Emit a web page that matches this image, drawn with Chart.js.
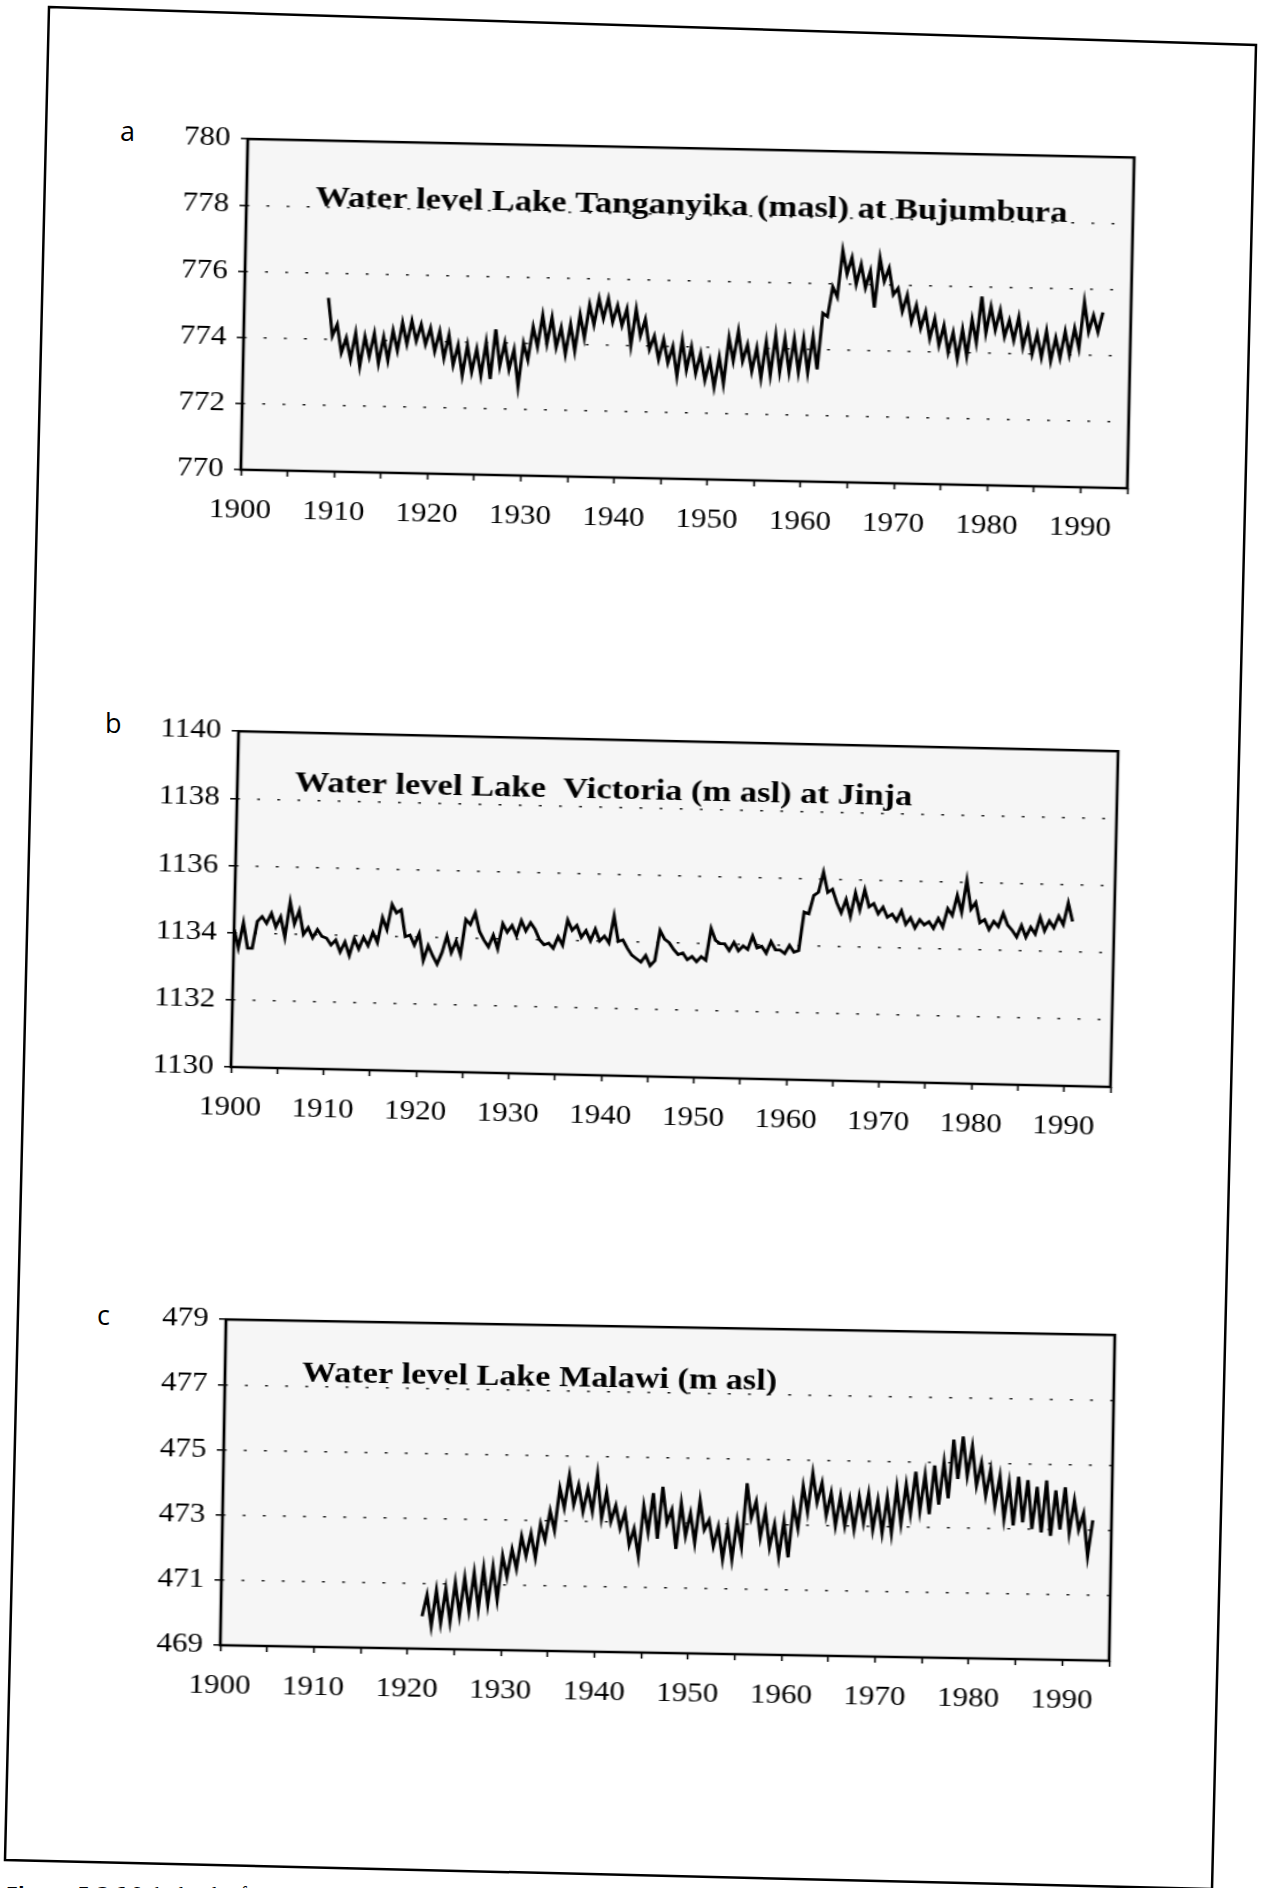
<!DOCTYPE html>
<html>
<head>
<meta charset="utf-8">
<script src="https://cdn.jsdelivr.net/npm/chart.js@4.4.1/dist/chart.umd.min.js"></script>
<style>
  html, body { margin: 0; padding: 0; background: #fff; }
  body { width: 1261px; height: 1888px; position: relative; overflow: hidden; }
  #frame { position: absolute; left: 0; top: 0; }
  .panel { position: absolute; }
  .panel canvas { display: block; }
  .tag { position: absolute; font-family: "Open Sans", sans-serif; font-size: 27px; line-height: 1; color: #000; }
  #caption { position: absolute; left: 6px; top: 1882px; white-space: nowrap; font-size: 20px; color: #000; }
  #caption b { font-family: "Liberation Sans Narrow", "DejaVu Sans Condensed", sans-serif; }
  #caption span { font-family: "Liberation Serif", serif; }
</style>
</head>
<body>
<svg id="frame" width="1261" height="1888">
  <polygon points="49,7 1256,45 1212,1889 5,1860" fill="none" stroke="#000" stroke-width="2.5"/>
</svg>

<div class="tag" style="left:120px;top:117px">a</div>
<div class="tag" style="left:105px;top:709px">b</div>
<div class="tag" style="left:97px;top:1301px">c</div>

<div class="panel" id="panelA"><canvas id="chartA"></canvas></div>
<div class="panel" id="panelB"><canvas id="chartB"></canvas></div>
<div class="panel" id="panelC"><canvas id="chartC"></canvas></div>

<div id="caption"><b>Figure 5.3.1</b> <span>Lake levels of</span></div>

<script>
// year labels on the x axes
const yearLabels = [1900, 1910, 1920, 1930, 1940, 1950, 1960, 1970, 1980, 1990];

// readings are half a year apart (high / low of each year)
const tanganyikaFrom = 1909.0;
const tanganyikaLevels = [
  775.25, 774.1, 774.45, 773.6, 774.05, 773.4, 774.2, 773.2, 774.1, 773.5,
  774.2, 773.3, 774.1, 773.4, 774.3, 773.7, 774.55, 773.9, 774.6, 774.0,
  774.5, 773.9, 774.4, 773.7, 774.3, 773.5, 774.2, 773.3, 773.9, 773.0,
  773.9, 773.1, 773.8, 773.0, 774.0, 772.9, 774.4, 773.3, 774.0, 773.2,
  773.8, 772.7, 774.0, 773.5, 774.5, 773.9, 774.85, 774.0, 774.8, 773.9,
  774.5, 773.7, 774.6, 773.8, 774.9, 774.2, 775.2, 774.6, 775.4, 774.8,
  775.4, 774.7, 775.2, 774.6, 775.1, 774.0, 775.1, 774.3, 774.8, 773.9,
  774.3, 773.6, 774.2, 773.5, 774.0, 773.1, 774.2, 773.3, 774.0, 773.2,
  773.8, 773.0, 773.6, 772.8, 773.7, 772.9, 774.3, 773.6, 774.5, 773.6,
  774.1, 773.3, 774.0, 773.1, 774.2, 773.2, 774.4, 773.3, 774.3, 773.3,
  774.3, 773.3, 774.3, 773.3, 774.4, 773.4, 775.1, 775.0, 775.9, 775.6,
  777.0, 776.3, 776.8, 776.0, 776.6, 775.9, 776.4, 775.3, 776.8, 776.1,
  776.5, 775.7, 775.9, 775.2, 775.7, 774.9, 775.4, 774.7, 775.2, 774.4,
  775.0, 774.2, 774.8, 774.0, 774.6, 773.8, 774.7, 773.9, 775.0, 774.3,
  775.7, 774.6, 775.4, 774.7, 775.3, 774.5, 775.0, 774.4, 775.1, 774.2,
  774.8, 774.0, 774.6, 773.9, 774.7, 773.8, 774.5, 773.9, 774.7, 774.0,
  774.8, 774.2, 775.6, 774.7, 775.2, 774.7, 775.3
];

const victoriaFrom = 1900.0;
const victoriaLevels = [
  1134.1, 1133.55, 1134.3, 1133.55, 1133.55, 1134.35, 1134.5, 1134.3, 1134.6, 1134.2,
  1134.5, 1133.9, 1134.95, 1134.3, 1134.7, 1134.0, 1134.2, 1133.9, 1134.15, 1133.95,
  1133.9, 1133.7, 1133.85, 1133.5, 1133.8, 1133.4, 1133.9, 1133.6, 1133.95, 1133.7,
  1134.1, 1133.8, 1134.55, 1134.2, 1134.95, 1134.7, 1134.8, 1134.0, 1134.05, 1133.75,
  1134.1, 1133.3, 1133.75, 1133.45, 1133.2, 1133.55, 1134.05, 1133.55, 1133.9, 1133.5,
  1134.55, 1134.4, 1134.75, 1134.2, 1133.95, 1133.75, 1134.1, 1133.7, 1134.45, 1134.2,
  1134.4, 1134.1, 1134.55, 1134.25, 1134.5, 1134.3, 1134.0, 1133.85, 1133.9, 1133.75,
  1134.1, 1133.85, 1134.6, 1134.3, 1134.45, 1134.1, 1134.3, 1134.0, 1134.35, 1134.0,
  1134.15, 1133.95, 1134.75, 1134.0, 1134.05, 1133.8, 1133.6, 1133.5, 1133.4, 1133.6,
  1133.3, 1133.45, 1134.35, 1134.1, 1134.0, 1133.8, 1133.65, 1133.7, 1133.5, 1133.6,
  1133.45, 1133.6, 1133.5, 1134.45, 1134.1, 1134.0, 1134.0, 1133.8, 1134.05, 1133.8,
  1133.95, 1133.85, 1134.25, 1133.9, 1133.95, 1133.75, 1134.1, 1133.85, 1133.85, 1133.75,
  1134.0, 1133.8, 1133.85, 1135.0, 1134.95, 1135.5, 1135.6, 1136.2, 1135.6, 1135.7,
  1135.3, 1135.0, 1135.4, 1134.9, 1135.6, 1135.1, 1135.7, 1135.2, 1135.3, 1135.0,
  1135.2, 1134.9, 1135.0, 1134.8, 1135.1, 1134.7, 1134.9, 1134.6, 1134.85, 1134.7,
  1134.8, 1134.6, 1134.9, 1134.65, 1135.2, 1135.0, 1135.6, 1135.1, 1136.05, 1135.2,
  1135.4, 1134.8, 1134.9, 1134.6, 1134.85, 1134.7, 1135.1, 1134.75, 1134.6, 1134.4,
  1134.75, 1134.4, 1134.7, 1134.5, 1135.0, 1134.6, 1134.9, 1134.7, 1135.05, 1134.8,
  1135.45, 1134.9
];

const malawiFrom = 1921.5;
const malawiLevels = [
  470.0, 470.65, 469.7, 470.8, 469.8, 470.85, 469.85, 471.05, 470.05, 471.2,
  470.2, 471.35, 470.25, 471.5, 470.4, 471.55, 470.55, 471.9, 471.25, 472.1,
  471.5, 472.5, 471.9, 472.6, 471.85, 472.9, 472.4, 473.3, 472.7, 474.0,
  473.4, 474.4, 473.5, 474.1, 473.3, 474.0, 473.3, 474.45, 473.1, 473.9,
  473.0, 473.5, 472.8, 473.3, 472.3, 472.8, 471.95, 473.5, 472.7, 473.9,
  472.5, 474.1, 473.0, 473.4, 472.2, 473.6, 472.6, 473.3, 472.4, 473.7,
  472.8, 473.1, 472.3, 472.9, 471.9, 472.9, 471.9, 473.1, 472.3, 474.25,
  473.2, 473.7, 472.6, 473.4, 472.3, 473.0, 472.0, 473.1, 472.0, 473.6,
  472.9, 474.2, 473.4, 474.6, 473.7, 474.3, 473.3, 474.0, 473.0, 473.9,
  473.0, 473.8, 472.9, 473.9, 473.1, 474.0, 472.9, 473.8, 472.8, 473.9,
  472.8, 474.2, 473.1, 474.3, 473.4, 474.7, 473.5, 474.6, 473.4, 474.9,
  473.7, 475.0, 473.9, 475.7, 474.5, 475.8, 474.6, 475.5, 474.3, 475.0,
  474.0, 474.8, 473.7, 474.6, 473.3, 474.4, 473.1, 474.6, 473.2, 474.5,
  473.0, 474.3, 472.9, 474.5, 472.8, 474.2, 473.0, 474.3, 472.9, 473.9,
  473.0, 473.5, 472.2, 473.3
];

// the scanned page is a little wider than tall, so panels are drawn narrow and stretched
const STRETCH = 1.15;
const AXIS_W = 80, AXIS_H = 72, PAD_T = 20, PAD_R = 20;
const tickFont = { family: '"Liberation Serif", "Times New Roman", serif', size: 27 };

function toPoints(from, levels) {
  return levels.map((v, i) => ({ x: from + i * 0.5, y: v }));
}

// plot fill, frame and the title written inside the plot
const plotDecor = {
  id: 'plotDecor',
  beforeDraw(chart, args, opts) {
    const { ctx, chartArea: a } = chart;
    ctx.save();
    ctx.fillStyle = '#f6f6f6';
    ctx.fillRect(a.left, a.top, a.width, a.height);
    ctx.restore();
  },
  afterDraw(chart, args, opts) {
    const { ctx, chartArea: a } = chart;
    ctx.save();
    ctx.strokeStyle = '#000';
    ctx.lineWidth = 2.5;
    ctx.strokeRect(a.left, a.top, a.width, a.height);
    ctx.fillStyle = '#000';
    ctx.font = 'bold ' + opts.size + 'px "Liberation Serif", "Times New Roman", serif';
    ctx.textBaseline = 'alphabetic';
    ctx.fillText(opts.text, a.left + opts.dx, a.top + opts.dy);
    ctx.restore();
  }
};

function makeChart(canvasId, panelId, series, yMin, yMax, xMax, title, place) {
  const canvas = document.getElementById(canvasId);
  canvas.width = Math.round(place.w / STRETCH) + AXIS_W + PAD_R;
  canvas.height = place.h + PAD_T + AXIS_H;

  const chart = new Chart(canvas, {
    type: 'line',
    data: {
      datasets: [{
        data: series,
        borderColor: '#000',
        borderWidth: 2.8,
        pointRadius: 0,
        tension: 0,
        fill: false
      }]
    },
    options: {
      responsive: false,
      animation: false,
      layout: { padding: { left: 0, top: PAD_T, right: PAD_R, bottom: 0 } },
      plugins: {
        legend: { display: false },
        tooltip: { enabled: false },
        plotDecor: title
      },
      scales: {
        x: {
          type: 'linear',
          min: 1900,
          max: xMax,
          afterFit(s) { s.height = AXIS_H; },
          ticks: {
            stepSize: 5,
            autoSkip: false,
            maxRotation: 0,
            padding: 19,
            color: '#000',
            font: tickFont,
            callback: (v) => yearLabels.includes(v) ? String(v) : ''
          },
          grid: { drawOnChartArea: false, tickLength: 6, tickColor: '#000', tickWidth: 1.5 },
          border: { display: false }
        },
        y: {
          min: yMin,
          max: yMax,
          afterFit(s) { s.width = AXIS_W; },
          ticks: { stepSize: 2, padding: 9, color: '#000', font: tickFont, callback: (v) => String(v) },
          grid: { color: '#222', lineWidth: 1.6, tickLength: 6, tickColor: '#000', tickWidth: 1.5, tickBorderDash: [] },
          border: { display: false, dash: [2.5, 15] }
        }
      }
    },
    plugins: [plotDecor]
  });

  // put the plot centre on the spot measured in the picture, tilted like the scan
  const a = chart.chartArea;
  const cx = (a.left + a.right) / 2, cy = (a.top + a.bottom) / 2;
  const panel = document.getElementById(panelId);
  panel.style.left = (place.cx - cx) + 'px';
  panel.style.top = (place.cy - cy) + 'px';
  panel.style.transformOrigin = cx + 'px ' + cy + 'px';
  panel.style.transform = 'rotate(' + place.angle + 'deg) scale(' + STRETCH + ', 1)';
  return chart;
}

makeChart('chartA', 'panelA', toPoints(tanganyikaFrom, tanganyikaLevels), 770, 780, 1995,
  { text: 'Water level Lake Tanganyika (masl) at Bujumbura', size: 30, dx: 60, dy: 66 },
  { cx: 687.5, cy: 314, w: 887, h: 336, angle: 1.2 });

makeChart('chartB', 'panelB', toPoints(victoriaFrom, victoriaLevels), 1130, 1140, 1995,
  { text: 'Water level Lake  Victoria (m asl) at Jinja', size: 30, dx: 50, dy: 59 },
  { cx: 674, cy: 909, w: 880, h: 341, angle: 1.3 });

makeChart('chartC', 'panelC', toPoints(malawiFrom, malawiLevels), 469, 479, 1995,
  { text: 'Water level Lake Malawi (m asl)', size: 29.7, dx: 67, dy: 61 },
  { cx: 667, cy: 1490, w: 889, h: 331, angle: 1.0 });
</script>
</body>
</html>
